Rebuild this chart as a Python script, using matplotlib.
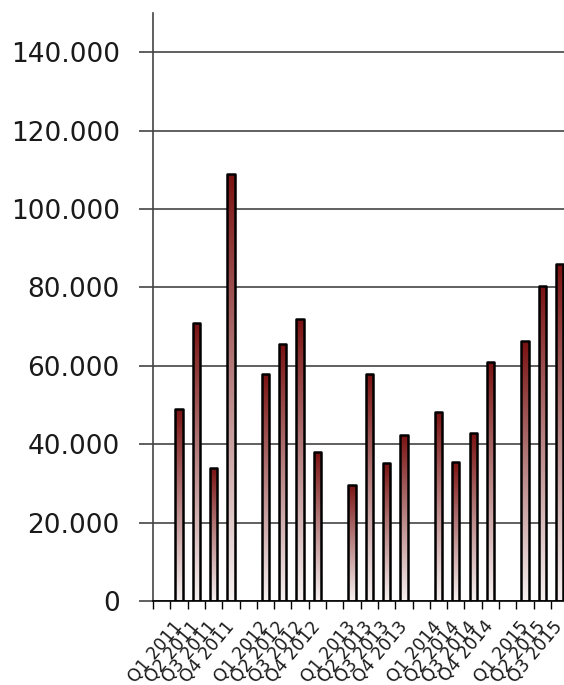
import numpy as np
import matplotlib
matplotlib.use("Agg")
import matplotlib.pyplot as plt
from matplotlib.patches import Rectangle
from matplotlib.colors import LinearSegmentedColormap
from matplotlib.ticker import FuncFormatter, MultipleLocator

# Quarterly values per year
years = [2011, 2012, 2013, 2014, 2015]
quarters = ["Q1", "Q2", "Q3", "Q4"]
values_2011 = [49000, 71000, 34000, 109000]
values_2012 = [58000, 65500, 72000, 38000]
values_2013 = [29700, 57800, 35200, 42400]
values_2014 = [48300, 35500, 42800, 61000]
values_2015 = [66300, 80400, 86000]
series = [values_2011, values_2012, values_2013, values_2014, values_2015]

# slot layout: one empty slot before each year's group of quarters
positions, heights, labels = [], [], []
for yi, (yr, vals) in enumerate(zip(years, series)):
    for qi, v in enumerate(vals):
        positions.append(yi * 5 + qi + 1.5)
        heights.append(v)
        labels.append(f"{quarters[qi]} {yr}")

fig = plt.figure(figsize=(5.64, 6.85), dpi=100)
ax = fig.add_axes([153 / 564, 84 / 685, 1 - 153 / 564, 588 / 685])

grad_cmap = LinearSegmentedColormap.from_list(
    "bar_grad", ["#f7f1f1", "#b98585", "#7a1212"])
grad = np.linspace(0, 1, 256).reshape(-1, 1)

bar_w = 0.42
for x, h in zip(positions, heights):
    x0 = x - bar_w / 2
    rect = Rectangle((x0, 0), bar_w, h, facecolor="none", edgecolor="black",
                     linewidth=1.8, joinstyle="round", zorder=3)
    ax.add_patch(rect)
    im = ax.imshow(grad, cmap=grad_cmap, origin="lower", aspect="auto",
                   extent=(x0, x0 + bar_w, 0, h), zorder=2,
                   interpolation="bilinear")
    im.set_clip_path(rect)

ax.set_xlim(0, 23.75)
ax.set_ylim(0, 150000)

# y axis: thousands with dot separator
ax.yaxis.set_major_locator(MultipleLocator(20000))
ax.yaxis.set_major_formatter(
    FuncFormatter(lambda v, p: f"{v:,.0f}".replace(",", ".")))
ax.tick_params(axis="y", length=10, width=1.2, color="#444444", pad=14,
               labelsize=19, labelcolor="#1a1a1a")
ax.grid(axis="y", color="#444444", linewidth=1.2, zorder=1)
ax.set_axisbelow(True)

# x axis: ticks at slot boundaries, labels at bar centres
ax.set_xticks(np.arange(0, 24))
ax.set_xticklabels([])
ax.tick_params(axis="x", which="major", length=6, width=1.0, color="black")
ax.set_xticks(positions, minor=True)
ax.set_xticklabels(labels, minor=True, rotation=50, ha="right",
                   va="center", rotation_mode="anchor", fontsize=12.5,
                   color="#1a1a1a")
ax.tick_params(axis="x", which="minor", length=0, pad=16)

for s in ("top", "right"):
    ax.spines[s].set_visible(False)
ax.spines["left"].set_color("#444444")
ax.spines["left"].set_linewidth(1.2)
ax.spines["bottom"].set_color("black")
ax.spines["bottom"].set_linewidth(1.2)

fig.savefig("out.png", dpi=100)
